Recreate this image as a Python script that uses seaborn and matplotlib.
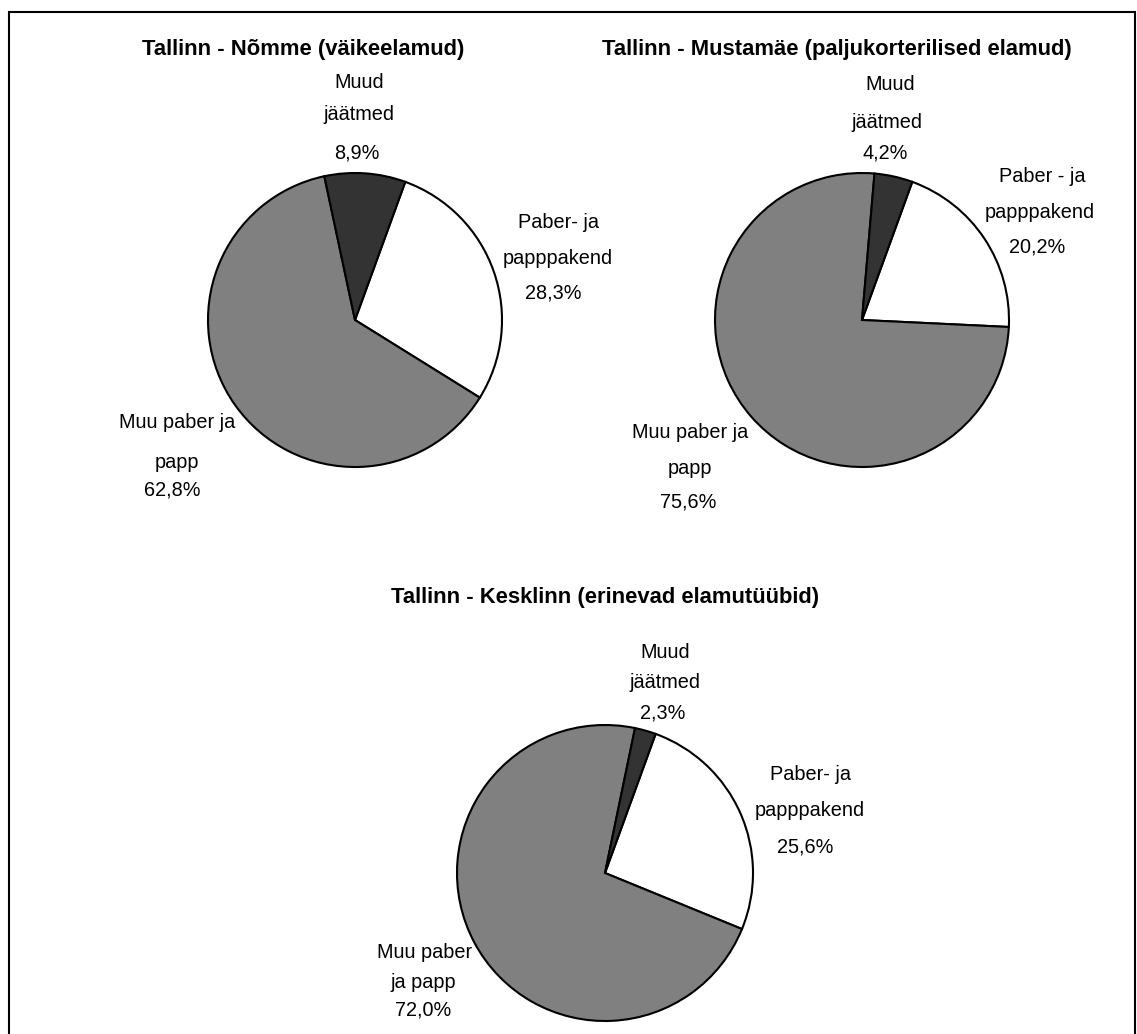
import matplotlib
matplotlib.use("Agg")
import matplotlib.pyplot as plt
from matplotlib import font_manager
import seaborn as sns

# ---- data ----
titles = [
    "Tallinn - Nõmme (väikeelamud)",
    "Tallinn - Mustamäe (paljukorterilised elamud)",
    "Tallinn - Kesklinn (erinevad elamutüübid)",
]
categories = ["Paber- ja papppakend", "Muu paber ja papp", "Muud jäätmed"]
nomme = [28.3, 62.8, 8.9]
mustamae = [20.2, 75.6, 4.2]
kesklinn = [25.6, 72.0, 2.3]

# line-broken category names as shown in each pie
label_lines = [
    [["Paber- ja", "papppakend"], ["Muu paber ja", "papp"], ["Muud", "jäätmed"]],
    [["Paber - ja", "papppakend"], ["Muu paber ja", "papp"], ["Muud", "jäätmed"]],
    [["Paber- ja", "papppakend"], ["Muu paber", "ja papp"], ["Muud", "jäätmed"]],
]

# ---- styling / layout ----
sns.set_theme(style="white")
fonts = font_manager.fontManager.ttflist
names = {f.name for f in fonts}
stretch = "normal"
if "Liberation Sans Narrow" in names:
    fam = ["Liberation Sans Narrow", "DejaVu Sans"]
    lab_fs, tit_fs = 16.5, 17.5
elif any(f.name == "Noto Sans" and str(f.stretch) in ("condensed", "semi-condensed", "75", "87.5")
         for f in fonts):
    fam = ["Noto Sans", "DejaVu Sans"]
    stretch = "condensed"
    lab_fs, tit_fs = 15.5, 16.5
else:
    fam = ["Liberation Sans", "DejaVu Sans"]
    lab_fs, tit_fs = 14.3, 15.8
plt.rcParams["font.family"] = fam

W, H = 1137, 1034
fig = plt.figure(figsize=(W / 100, H / 100), dpi=100)
fig.patch.set_facecolor("white")
ax = fig.add_axes([0, 0, 1, 1])

colors = ["#ffffff", "#808080", "#333333"]
pies = [nomme, mustamae, kesklinn]
centers = [(355, 320), (862, 320), (605, 873)]
radii = [147, 147, 148]
title_pos = [(303, 50), (837, 50), (605, 598)]
# per-line label positions (pixels): for each pie, per category, 3 (x, y)
line_pos = [
    [[(558, 223), (558, 258), (553, 293)],
     [(177, 423), (177, 462), (172, 490)],
     [(359, 83), (359, 115), (357, 153)]],
    [[(1042, 177), (1040, 212), (1037, 247)],
     [(690, 432), (690, 468), (688, 502)],
     [(890, 85), (887, 122), (885, 153)]],
    [[(810, 775), (810, 810), (805, 847)],
     [(425, 952), (423, 982), (423, 1010)],
     [(665, 652), (665, 683), (663, 713)]],
]

for i, vals in enumerate(pies):
    cx, cy = centers[i]
    ax.pie(vals, colors=colors, center=(cx, H - cy), radius=radii[i],
           startangle=70, counterclock=False,
           wedgeprops=dict(edgecolor="black", linewidth=1.5))
    tx, ty = title_pos[i]
    ax.text(tx, H - ty, titles[i], ha="center", va="center",
            fontsize=tit_fs, fontweight="bold", fontstretch=stretch, color="black")
    for j, v in enumerate(vals):
        pct = f"{v:.1f}".replace(".", ",") + "%"
        lines = label_lines[i][j] + [pct]
        for k, txt in enumerate(lines):
            x, y = line_pos[i][j][k]
            ax.text(x, H - y, txt, ha="center", va="center",
                    fontsize=lab_fs, fontstretch=stretch, color="black")

ax.set_xlim(0, W)
ax.set_ylim(0, H)
ax.set_aspect("auto")
ax.axis("off")

# outer frame
fig.add_artist(plt.Rectangle((9 / W, -0.01), (1135 - 9) / W, (H - 12) / H + 0.01,
                             transform=fig.transFigure, fill=False,
                             edgecolor="black", linewidth=1.5))

fig.savefig("out.png", dpi=100, facecolor="white")
